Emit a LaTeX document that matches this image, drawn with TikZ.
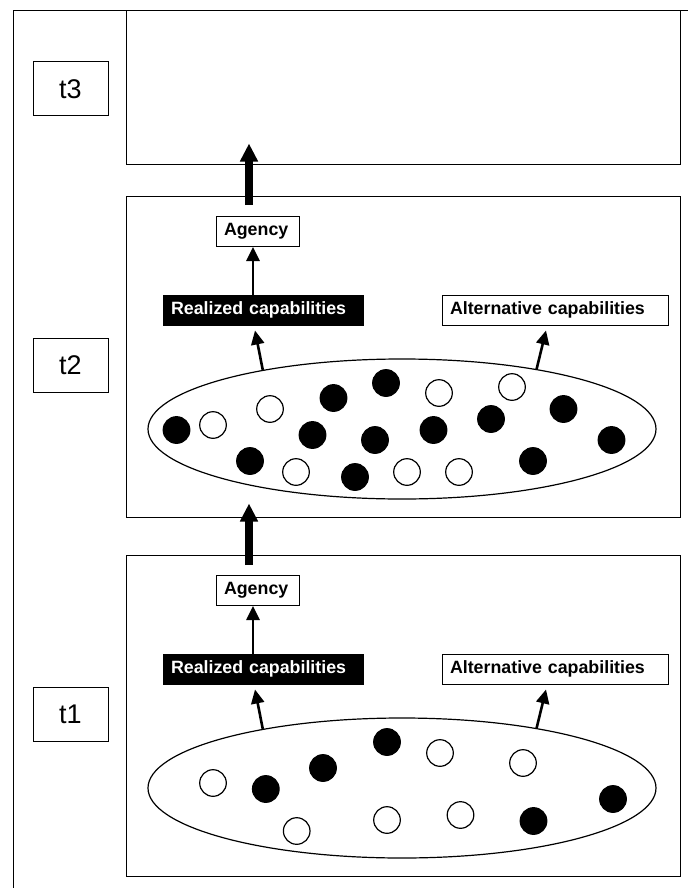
\documentclass[tikz,border=0pt]{standalone}
\usepackage{fontspec}
\setmainfont{Liberation Sans}
\usetikzlibrary{arrows.meta,shapes.geometric}
\begin{document}
\begin{tikzpicture}[x=1pt,y=-1pt,
  frame/.style={draw=black,line width=1pt},
  panel/.style={draw=black,line width=1pt,fill=white,minimum width=554pt,inner sep=0pt},
  tlab/.style={draw=black,line width=1pt,minimum width=75pt,minimum height=54pt,inner sep=0pt,font=\fontsize{27}{30}\selectfont},
  lab/.style={draw=black,line width=1pt,minimum height=30pt,inner ysep=0pt,inner xsep=8pt,align=left,font=\fontsize{17.8}{20}\selectfont\bfseries},
  whitelab/.style={lab,fill=white,text=black},
  blacklab/.style={lab,fill=black,text=white},
  cloud/.style={ellipse,draw=black,line width=1.2pt,minimum width=508pt,minimum height=140pt,inner sep=0pt},
  dotf/.style={draw=black,fill=black,line width=1.2pt},
  doto/.style={draw=black,fill=white,line width=1.2pt},
  thinarr/.style={line width=2.6pt,-{Triangle[width=13pt,length=14pt]}},
  thickarr/.style={line width=8pt,-{Triangle[width=17pt,length=18pt]}}
]
\useasboundingbox (0,0) rectangle (688,888);
\fill[white] (0,0) rectangle (688,888);
% outer frame
\draw[frame] (13,888) -- (13,11) -- (688,11);
% panels
\node[panel,minimum height=153pt] (box3) at (403,87.5) {};
\node[panel,minimum height=321pt] (box2) at (403,356.5) {};
\node[panel,minimum height=321pt] (box1) at (403,715.5) {};
% time labels
\node[tlab] (t3) at (70.5,89) {t3};
\node[tlab] (t2) at (70.5,365) {t2};
\node[tlab] (t1) at (70.5,714) {t1};
% ---- t2 panel
\node[cloud] (el2) at (402,429) {};
\foreach \x/\y in {176.5/430,333.5/398,386/383,563.5/409,312.5/435,375/440,433.5/430,491/419,611.5/440,250/461,355/477,533/461}
  \draw[dotf] (\x,\y) circle[radius=13.3];
\foreach \x/\y in {213/425,270/409,439/393,512/387,296/472,407/472,459/472}
  \draw[doto] (\x,\y) circle[radius=13.3];
\node[whitelab,text width=67pt] (ag2) at (257.5,231.5) {Agency};
\node[blacklab,text width=184pt] (re2) at (263,310) {Realized capabilities};
\node[whitelab,text width=210pt] (al2) at (555,310) {Alternative capabilities};
\draw[thinarr] ([xshift=-10pt]re2.north) -- ([xshift=-4.5pt]ag2.south);
\draw[thinarr] (el2.157) -- ([xshift=-8pt,yshift=-5pt]re2.south);
\draw[thinarr] (el2.24) -- ([xshift=-9pt,yshift=-5pt]al2.south);
% ---- t1 panel
\node[cloud] (el1) at (402,788) {};
\foreach \x/\y in {265.8/789,323/768,387/742,613/799,533.5/821}
  \draw[dotf] (\x,\y) circle[radius=13.3];
\foreach \x/\y in {213/783,440/753,523/763,296.7/831,387/820,460.5/815}
  \draw[doto] (\x,\y) circle[radius=13.3];
\node[whitelab,text width=67pt] (ag1) at (257.5,590.5) {Agency};
\node[blacklab,text width=184pt] (re1) at (263,669) {Realized capabilities};
\node[whitelab,text width=210pt] (al1) at (555,669) {Alternative capabilities};
\draw[thinarr] ([xshift=-10pt]re1.north) -- ([xshift=-4.5pt]ag1.south);
\draw[thinarr] (el1.157) -- ([xshift=-8pt,yshift=-5pt]re1.south);
\draw[thinarr] (el1.24) -- ([xshift=-9pt,yshift=-5pt]al1.south);
% ---- thick arrows between panels
\coordinate (s2) at ([xshift=-8.5pt,yshift=11pt]ag2.north);
\coordinate (e2) at (s2 |- box3.south);
\draw[thickarr] (s2) -- ([yshift=21pt]e2);
\coordinate (s1) at ([xshift=-8.5pt,yshift=10pt]ag1.north);
\coordinate (e1) at (s1 |- box2.south);
\draw[thickarr] (s1) -- ([yshift=14pt]e1);
\end{tikzpicture}
\end{document}
